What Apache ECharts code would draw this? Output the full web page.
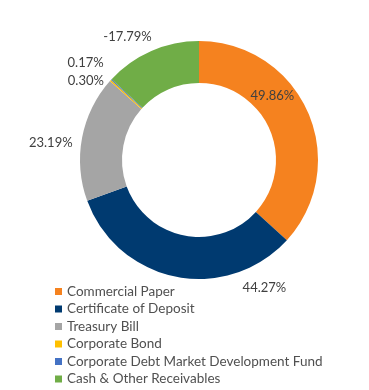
<!DOCTYPE html>
<html>
<head>
<meta charset="utf-8">
<script src="https://cdn.jsdelivr.net/npm/echarts@6/dist/echarts.min.js"></script>
<style>
  html, body { margin: 0; padding: 0; background: #fff; }
  #chart { width: 369px; height: 390px; }
</style>
</head>
<body>
<div id="chart"></div>
<script>
// Data
const categories = [
  'Commercial Paper',
  'Certificate of Deposit',
  'Treasury Bill',
  'Corporate Bond',
  'Corporate Debt Market Development Fund',
  'Cash & Other Receivables'
];
const values = [49.86, 44.27, 23.19, 0.30, 0.17, -17.79];

// Styles (separate from data)
const colors = ['#F5821F', '#003A70', '#A5A5A5', '#FFC000', '#4472C4', '#70AD47'];
const labelOffsets = [[-19, -23], [85, 29], [-49, 2], [-38, -12], [-39, -29], [-31, -31]];

const FONT = 'Lato, "Liberation Sans", sans-serif';

const pieData = categories.map((name, i) => ({
  name: name,
  value: Math.abs(values[i]),
  itemStyle: { color: colors[i] },
  label: { offset: labelOffsets[i] }
}));

const chart = echarts.init(document.getElementById('chart'), null, { renderer: 'canvas' });
chart.setOption({
  animation: false,
  backgroundColor: '#ffffff',
  legend: {
    orient: 'vertical',
    left: 55,
    top: 284,
    padding: 0,
    itemWidth: 7,
    itemHeight: 7,
    itemGap: 2.5,
    icon: 'rect',
    data: categories,
    textStyle: { fontFamily: FONT, fontSize: 13.5, color: '#505050', lineHeight: 15 }
  },
  series: [{
    type: 'pie',
    center: [199, 160],
    radius: [77, 119],
    startAngle: 90,
    clockwise: true,
    avoidLabelOverlap: false,
    itemStyle: { borderWidth: 0 },
    emphasis: { disabled: true },
    label: {
      show: true,
      position: 'inside',
      rotate: 0,
      color: '#404040',
      fontFamily: FONT,
      fontSize: 13,
      formatter: function (p) { return values[p.dataIndex].toFixed(2) + '%'; }
    },
    labelLine: { show: false },
    data: pieData
  }]
});
</script>
</body>
</html>
